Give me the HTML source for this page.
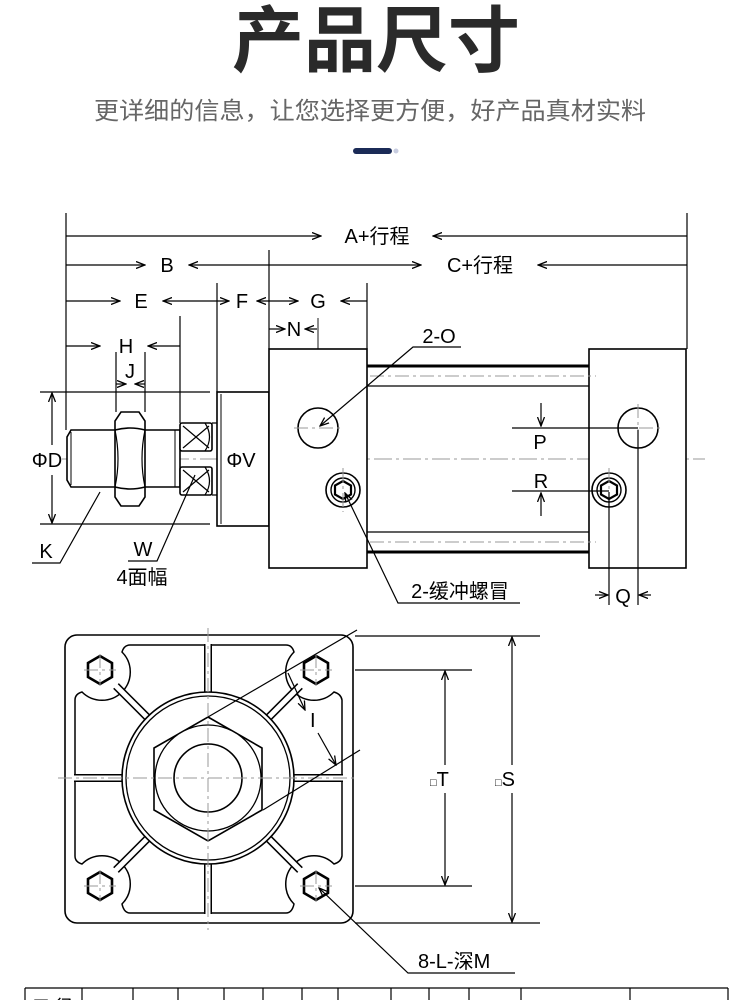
<!DOCTYPE html>
<html><head><meta charset="utf-8"><style>
html,body{margin:0;padding:0;background:#fff;}
svg{display:block;}
text{font-family:"Liberation Sans","Noto Sans CJK SC",sans-serif;}
</style></head><body>
<svg width="750" height="1000" viewBox="0 0 750 1000" xmlns="http://www.w3.org/2000/svg">
<defs>
<marker id="ar" markerWidth="10" markerHeight="8" refX="9" refY="4" orient="auto" markerUnits="userSpaceOnUse">
<path d="M0,0.5 L9,4 L0,7.5" fill="none" stroke="#000" stroke-width="1.3"/>
</marker>
</defs>
<!-- header -->
<text x="376" y="66" font-size="72" font-weight="bold" fill="#2a2a2a" text-anchor="middle" textLength="288" lengthAdjust="spacingAndGlyphs">产品尺寸</text>
<text x="370" y="119" font-size="24" fill="#666" text-anchor="middle" textLength="552" lengthAdjust="spacingAndGlyphs">更详细的信息，让您选择更方便，好产品真材实料</text>
<rect x="353" y="148" width="39" height="6" rx="3" fill="#1b2b57"/>
<circle cx="396" cy="151" r="2.5" fill="#c8cde0"/>

<g stroke="#000" fill="none" stroke-width="1.2">
<line x1="66" y1="213" x2="66" y2="430"/>
<line x1="687" y1="213" x2="687" y2="349"/>
<line x1="269" y1="250" x2="269" y2="349"/>
<line x1="217" y1="283" x2="217" y2="392"/>
<line x1="367" y1="283" x2="367" y2="349"/>
<line x1="180" y1="316" x2="180" y2="423"/>
<line x1="116" y1="352" x2="116" y2="412"/>
<line x1="145" y1="352" x2="145" y2="412"/>
<line x1="318" y1="318" x2="318" y2="428" stroke-width="0.9"/>
<line x1="66" y1="236" x2="321" y2="236" marker-end="url(#ar)"/>
<line x1="687" y1="236" x2="433" y2="236" marker-end="url(#ar)"/>
<line x1="66" y1="265" x2="145" y2="265" marker-end="url(#ar)"/>
<line x1="300" y1="265" x2="189" y2="265" marker-end="url(#ar)"/>
<line x1="300" y1="265" x2="421" y2="265" marker-end="url(#ar)"/>
<line x1="687" y1="265" x2="538" y2="265" marker-end="url(#ar)"/>
<line x1="66" y1="301" x2="120" y2="301" marker-end="url(#ar)"/>
<line x1="200" y1="301" x2="163" y2="301" marker-end="url(#ar)"/>
<line x1="200" y1="301" x2="229" y2="301" marker-end="url(#ar)"/>
<line x1="277" y1="301" x2="257" y2="301" marker-end="url(#ar)"/>
<line x1="277" y1="301" x2="298" y2="301" marker-end="url(#ar)"/>
<line x1="367" y1="301" x2="341" y2="301" marker-end="url(#ar)"/>
<line x1="269" y1="329" x2="285" y2="329" marker-end="url(#ar)"/>
<line x1="317" y1="329" x2="305" y2="329" marker-end="url(#ar)"/>
<line x1="66" y1="346" x2="100" y2="346" marker-end="url(#ar)"/>
<line x1="180" y1="346" x2="148" y2="346" marker-end="url(#ar)"/>
<line x1="116" y1="384" x2="126" y2="384" marker-end="url(#ar)"/>
<line x1="145" y1="384" x2="135" y2="384" marker-end="url(#ar)"/>
<line x1="40" y1="392" x2="210" y2="392"/>
<line x1="40" y1="524" x2="210" y2="524"/>
<line x1="52" y1="445" x2="52" y2="393" marker-end="url(#ar)"/>
<line x1="52" y1="475" x2="52" y2="523" marker-end="url(#ar)"/>
<line x1="212" y1="423" x2="252" y2="423"/>
<line x1="212" y1="495" x2="252" y2="495"/>
<line x1="240" y1="445" x2="240" y2="424" marker-end="url(#ar)"/>
<line x1="240" y1="475" x2="240" y2="494" marker-end="url(#ar)"/>
</g>

<line x1="55" y1="459" x2="705" y2="459" stroke="#999" stroke-width="1" stroke-dasharray="18,4,3,4"/>

<g stroke="#000" fill="#fff" stroke-width="1.6">
<line x1="367" y1="366" x2="589" y2="366" stroke-width="3"/>
<line x1="367" y1="386" x2="589" y2="386" stroke-width="1.3"/>
<line x1="367" y1="532" x2="589" y2="532" stroke-width="1.3"/>
<line x1="367" y1="552" x2="589" y2="552" stroke-width="3"/>
<path d="M71,430 L180,430 L180,487 L71,487 L67,480 L67,437 Z"/>
<line x1="71" y1="432" x2="71" y2="485" stroke-width="1"/>
<line x1="175" y1="430" x2="175" y2="487" stroke-width="1"/>
<path d="M121,412 L139,412 L145,421 L145,497 L139,506 L121,506 L115,497 L115,421 Z"/>
<path d="M115,430 Q130,426 145,430 M115,487 Q130,491 145,487" fill="none"/>
<path d="M115,430 Q121,459 115,487 M145,430 Q139,459 145,487" fill="none" stroke-width="1.2"/>
<rect x="180" y="423" width="32" height="28" rx="2"/>
<rect x="180" y="467" width="32" height="28" rx="2"/>
<path d="M183,426 L209,448 M209,426 L183,448 M183,470 L209,492 M209,470 L183,492" stroke-width="1.2"/>
<path d="M205,423 Q214,437 205,451 M205,467 Q214,481 205,495" fill="none" stroke-width="1.2"/>
<rect x="217" y="392" width="52" height="134"/>
<line x1="221" y1="394" x2="221" y2="524" stroke-width="1"/>
<rect x="269" y="349" width="98" height="219"/>
<rect x="589" y="349" width="97" height="219"/>
<circle cx="318" cy="428" r="20"/>
<circle cx="638" cy="428" r="20"/>
<circle cx="343" cy="490" r="17"/>
<circle cx="343" cy="490" r="12" stroke-width="1.4"/>
<path d="M343,481 L351,485.5 L351,494.5 L343,499 L335,494.5 L335,485.5 Z" stroke-width="2.2"/>
<circle cx="609" cy="490" r="17"/>
<circle cx="609" cy="490" r="12" stroke-width="1.4"/>
<path d="M609,481 L617,485.5 L617,494.5 L609,499 L601,494.5 L601,485.5 Z" stroke-width="2.2"/>
</g>
<g stroke="#999" stroke-width="1" stroke-dasharray="14,4,3,4" fill="none">
<line x1="370" y1="376" x2="596" y2="376"/>
<line x1="370" y1="542" x2="596" y2="542"/>
<line x1="294" y1="428" x2="342" y2="428"/>
<line x1="614" y1="428" x2="662" y2="428"/>
<line x1="638" y1="404" x2="638" y2="452"/>
<line x1="343" y1="468" x2="343" y2="512"/>
<line x1="609" y1="468" x2="609" y2="512"/>
</g>
<g stroke="#000" fill="none" stroke-width="1.2">
<line x1="512" y1="428" x2="638" y2="428"/>
<line x1="541" y1="403" x2="541" y2="426" marker-end="url(#ar)"/>
<line x1="512" y1="491" x2="609" y2="491"/>
<line x1="541" y1="516" x2="541" y2="493" marker-end="url(#ar)"/>
<line x1="609" y1="492" x2="609" y2="605"/>
<line x1="638" y1="430" x2="638" y2="605"/>
<line x1="595" y1="595" x2="608" y2="595" marker-end="url(#ar)"/>
<line x1="651" y1="595" x2="639" y2="595" marker-end="url(#ar)"/>
<polyline points="461,347 413,347 320,426" marker-end="url(#ar)"/>
<polyline points="520,603 398,603 345,493" marker-end="url(#ar)"/>
<polyline points="32,563 60,563 100,492"/>
<polyline points="128,561 157,561 195,475"/>
</g>
<g font-size="20" fill="#000" text-anchor="middle">
<text x="377" y="243">A+行程</text>
<text x="167" y="272">B</text>
<text x="480" y="272">C+行程</text>
<text x="141" y="308">E</text>
<text x="242" y="308">F</text>
<text x="318" y="308">G</text>
<text x="294" y="336">N</text>
<text x="126" y="353">H</text>
<text x="130" y="378">J</text>
<rect x="36" y="447" width="26" height="24" fill="#fff"/>
<text x="47" y="467">ΦD</text>
<rect x="226" y="447" width="28" height="24" fill="#fff"/>
<text x="241" y="467">ΦV</text>
<text x="439" y="343">2-O</text>
<text x="540" y="449">P</text>
<text x="541" y="488">R</text>
<text x="623" y="603">Q</text>
<text x="460" y="598">2-缓冲螺冒</text>
<text x="46" y="558">K</text>
<text x="143" y="556">W</text>
<text x="142" y="584">4面幅</text>
</g>

<!-- FRONT VIEW -->
<rect x="65" y="635" width="288" height="288" rx="12" fill="#fff" stroke="#000" stroke-width="1.6"/>
<path d="M122,652 Q124,645 130,645 L286,645 Q292,645 294,652 A28,28 0 0 0 334,692 Q341,694 342,700 L342,856 Q341,862 334,864 A28,28 0 0 0 294,904 Q292,913 286,913 L130,913 Q124,913 122,904 A28,28 0 0 0 82,864 Q75,862 75,856 L75,700 Q75,694 82,692 A28,28 0 0 0 122,652 Z" fill="none" stroke="#000" stroke-width="1.5"/>
<g stroke-linecap="butt">
<g stroke="#000" stroke-width="8">
<line x1="208" y1="644" x2="208" y2="696"/><line x1="208" y1="860" x2="208" y2="914"/>
<line x1="74" y1="778" x2="124" y2="778"/><line x1="292" y1="778" x2="343" y2="778"/>
<line x1="116" y1="686" x2="150" y2="720"/><line x1="300" y1="686" x2="266" y2="720"/>
<line x1="116" y1="870" x2="150" y2="836"/><line x1="300" y1="870" x2="266" y2="836"/>
</g>
<g stroke="#fff" stroke-width="5">
<line x1="208" y1="643" x2="208" y2="697"/><line x1="208" y1="859" x2="208" y2="915"/>
<line x1="73" y1="778" x2="125" y2="778"/><line x1="291" y1="778" x2="344" y2="778"/>
<line x1="114" y1="684" x2="151" y2="721"/><line x1="302" y1="684" x2="265" y2="721"/>
<line x1="114" y1="872" x2="151" y2="835"/><line x1="302" y1="872" x2="265" y2="835"/>
</g>
</g>
<g stroke="#000" fill="#fff" stroke-width="1.6">
<circle cx="208" cy="778" r="86"/>
<circle cx="208" cy="778" r="82" stroke-width="1.3"/>
<path d="M208,717 L262,748 L262,810 L208,841 L154,810 L154,748 Z"/>
<circle cx="208" cy="778" r="53" stroke-width="1.3"/>
<circle cx="208" cy="778" r="34"/>
<g stroke-width="2.6">
<path d="M100,656 L112,663 L112,677 L100,684 L88,677 L88,663 Z"/>
<path d="M316,656 L328,663 L328,677 L316,684 L304,677 L304,663 Z"/>
<path d="M100,872 L112,879 L112,893 L100,900 L88,893 L88,879 Z"/>
<path d="M316,872 L328,879 L328,893 L316,900 L304,893 L304,879 Z"/>
</g>
</g>
<g stroke="#999" stroke-width="1" stroke-dasharray="14,4,3,4" fill="none">
<line x1="208" y1="628" x2="208" y2="930"/>
<line x1="58" y1="778" x2="358" y2="778"/>
<line x1="84" y1="670" x2="116" y2="670"/><line x1="100" y1="654" x2="100" y2="686"/>
<line x1="300" y1="670" x2="332" y2="670"/><line x1="316" y1="654" x2="316" y2="686"/>
<line x1="84" y1="886" x2="116" y2="886"/><line x1="100" y1="870" x2="100" y2="902"/>
<line x1="300" y1="886" x2="332" y2="886"/><line x1="316" y1="870" x2="316" y2="902"/>
</g>
<g stroke="#000" fill="none" stroke-width="1.2">
<line x1="357" y1="630" x2="208" y2="717"/>
<line x1="360" y1="750" x2="263" y2="810"/>
<line x1="288" y1="673" x2="305" y2="710" marker-end="url(#ar)"/>
<line x1="318" y1="733" x2="336" y2="765" marker-end="url(#ar)"/>
<line x1="355" y1="670" x2="472" y2="670"/>
<line x1="355" y1="886" x2="472" y2="886"/>
<line x1="445" y1="765" x2="445" y2="671" marker-end="url(#ar)"/>
<line x1="445" y1="793" x2="445" y2="885" marker-end="url(#ar)"/>
<line x1="355" y1="636" x2="540" y2="636"/>
<line x1="355" y1="923" x2="540" y2="923"/>
<line x1="512" y1="765" x2="512" y2="637" marker-end="url(#ar)"/>
<line x1="512" y1="793" x2="512" y2="922" marker-end="url(#ar)"/>
<polyline points="515,973 408,973 319,888" marker-end="url(#ar)"/>
</g>
<g font-size="20" fill="#000">
<text x="310" y="727">I</text>
<text x="430" y="786" font-size="20"><tspan font-size="11">□</tspan>T</text>
<text x="495" y="786" font-size="20"><tspan font-size="11">□</tspan>S</text>
<text x="418" y="968">8-L-深M</text>
</g>

<g stroke="#000" stroke-width="1.2" fill="none">
<line x1="25" y1="988" x2="728" y2="988"/>
<line x1="25" y1="988" x2="25" y2="1000"/>
<line x1="82" y1="988" x2="82" y2="1000"/>
<line x1="133" y1="988" x2="133" y2="1000"/>
<line x1="178" y1="988" x2="178" y2="1000"/>
<line x1="224" y1="988" x2="224" y2="1000"/>
<line x1="263" y1="988" x2="263" y2="1000"/>
<line x1="302" y1="988" x2="302" y2="1000"/>
<line x1="338" y1="988" x2="338" y2="1000"/>
<line x1="391" y1="988" x2="391" y2="1000"/>
<line x1="429" y1="988" x2="429" y2="1000"/>
<line x1="469" y1="988" x2="469" y2="1000"/>
<line x1="521" y1="988" x2="521" y2="1000"/>
<line x1="630" y1="988" x2="630" y2="1000"/>
<line x1="728" y1="988" x2="728" y2="1000"/>
</g>
<text x="32" y="1013" font-size="18" fill="#000">口 径</text>
</svg>
</body></html>
